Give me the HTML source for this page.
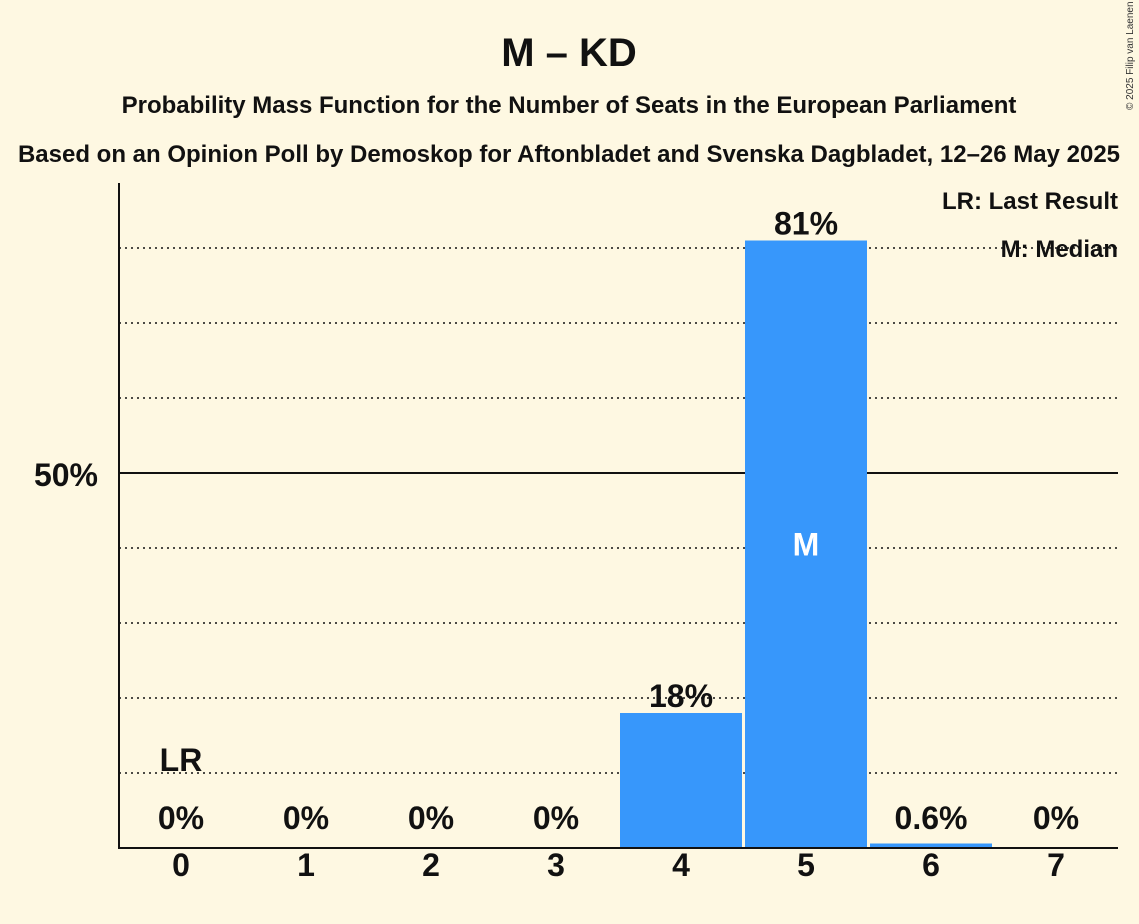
<!DOCTYPE html>
<html><head><meta charset="utf-8"><style>
html,body{margin:0;padding:0;background:#fef8e2;}
svg{display:block;font-family:"Liberation Sans",sans-serif;}
</style></head><body>
<svg id="chart" width="1139" height="924" viewBox="0 0 1139 924">
<rect width="1139" height="924" fill="#fef8e2"/>
<text x="569" y="66" text-anchor="middle" font-size="40" font-weight="bold" fill="#111">M – KD</text>
<text x="569" y="113" text-anchor="middle" font-size="24" font-weight="bold" fill="#111">Probability Mass Function for the Number of Seats in the European Parliament</text>
<text x="569" y="162" text-anchor="middle" font-size="24" font-weight="bold" fill="#111">Based on an Opinion Poll by Demoskop for Aftonbladet and Svenska Dagbladet, 12–26 May 2025</text>
<text x="1133" y="110" font-size="10" fill="#333" transform="rotate(-90 1133 110)" text-anchor="start">© 2025 Filip van Laenen</text>
<g id="grid"></g>
<g id="bars"></g>
<line x1="119" y1="183" x2="119" y2="849" stroke="#111" stroke-width="2"/>
<line x1="118" y1="848" x2="1118" y2="848" stroke="#111" stroke-width="2"/>
<text x="98" y="486" text-anchor="end" font-size="32" font-weight="bold" fill="#111">50%</text>
<text x="1118" y="209" text-anchor="end" font-size="24" font-weight="bold" fill="#111">LR: Last Result</text>
<text x="1118" y="257" text-anchor="end" font-size="24" font-weight="bold" fill="#111">M: Median</text>
<g id="labels"></g>
</svg>
<script>
const categories=[0,1,2,3,4,5,6,7];
const values=[0,0,0,0,18,81,0.6,0];
const valueLabels=["0%","0%","0%","0%","18%","81%","0.6%","0%"];
const gridTicks=[10,20,30,40,60,70,80];
const lastResultSeat=0;
const medianSeat=5;
const NS="http://www.w3.org/2000/svg";
const y0=848, pxPerPct=7.5, x0=119, slot=125;
function yS(v){return y0-v*pxPerPct;}
function xS(c){return x0+62+c*slot;}
function mk(tag,attrs,parent,text){const e=document.createElementNS(NS,tag);for(const k in attrs)e.setAttribute(k,attrs[k]);if(text!==undefined)e.textContent=text;parent.appendChild(e);return e;}
const grid=document.getElementById('grid'),bars=document.getElementById('bars'),labels=document.getElementById('labels');
gridTicks.forEach(t=>{
  const l=mk('line',{x1:119,x2:1118,y1:yS(t),y2:yS(t),stroke:'#111','stroke-width':1.5,'stroke-dasharray':'2,4'},grid);
  
  
});
const g50=mk('line',{x1:119,x2:1118,y1:yS(50),y2:yS(50),stroke:'#111','stroke-width':2},grid);


categories.forEach((c,i)=>{
  const v=values[i];
  if(v>0){
    const r=mk('rect',{x:xS(c)-61,y:yS(v),width:122,height:v*pxPerPct,fill:'#3797fb'},bars);
    
    
  }
  const ly=(v>5)?yS(v)-18:817;
  const t=mk('text',{x:xS(c),y:ly+12,'text-anchor':'middle','font-size':32,'font-weight':'bold',fill:'#111'},labels,valueLabels[i]);
  
  
  const xt=mk('text',{x:xS(c),y:876,'text-anchor':'middle','font-size':32,'font-weight':'bold',fill:'#111'},labels,String(c));
  
  
  if(c===lastResultSeat){
    const lr=mk('text',{x:xS(c),y:771,'text-anchor':'middle','font-size':32,'font-weight':'bold',fill:'#111'},labels,'LR');
    
    
  }
  if(c===medianSeat){
    const m=mk('text',{x:xS(c),y:yS(v/2)+11,'text-anchor':'middle','font-size':32,'font-weight':'bold',fill:'#fff'},labels,'M');
    
    
  }
});
</script>
</body></html>
